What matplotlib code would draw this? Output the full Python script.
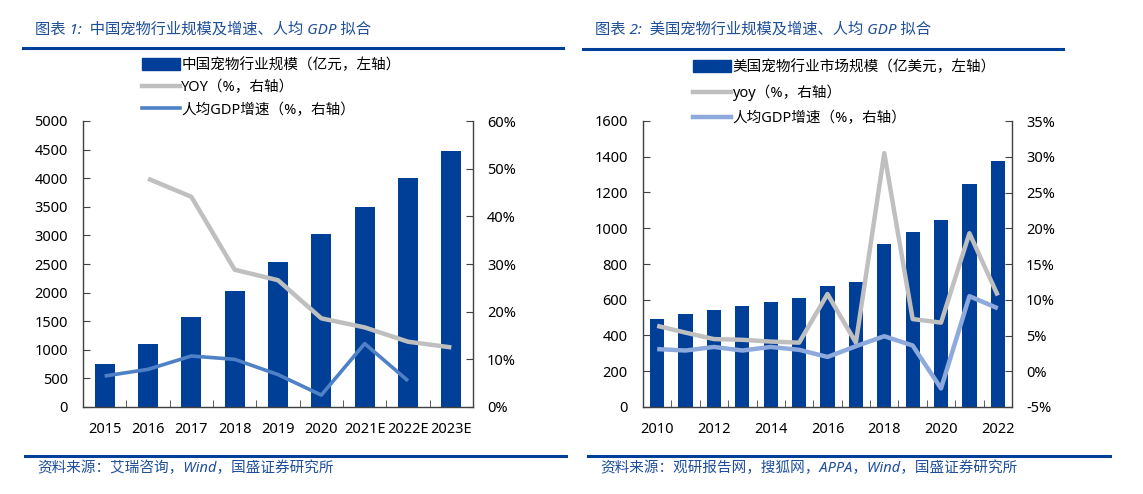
import numpy as np
import matplotlib
matplotlib.use("Agg")
import matplotlib.pyplot as plt
from matplotlib.patches import Patch
from matplotlib.lines import Line2D

plt.rcParams['font.family'] = ['Noto Sans', 'Noto Sans CJK SC', 'DejaVu Sans']

# chart 1: China
cn_years = ['2015', '2016', '2017', '2018', '2019', '2020', '2021E', '2022E', '2023E']
cn_size = [750, 1100, 1570, 2020, 2540, 3020, 3500, 4000, 4480]
cn_yoy = [np.nan, 47.9, 44.1, 28.8, 26.6, 18.6, 16.7, 13.7, 12.5]
cn_gdp = [6.5, 7.9, 10.7, 10.0, 6.8, 2.5, 13.3, 5.5, np.nan]

# chart 2: USA
us_years = [str(y) for y in range(2010, 2023)]
us_size = [493, 519, 541, 566, 588, 610, 678, 702, 913, 978, 1045, 1245, 1378]
us_yoy = [6.35, 5.4, 4.5, 4.4, 4.15, 4.0, 10.8, 4.0, 30.5, 7.3, 6.8, 19.3, 10.6]
us_gdp = [3.1, 2.9, 3.4, 2.9, 3.4, 3.0, 2.0, 3.5, 4.9, 3.6, -2.4, 10.5, 8.8]

BAR = '#003F98'
GRAY = '#BFBFBF'
BLUE1 = '#4F81C7'
BLUE2 = '#8EA9DB'
SPINE = '#404040'
TXT_BLUE = '#1F4E9A'

W, H = 1143, 494
fig = plt.figure(figsize=(W / 100, H / 100), dpi=100)


def px_ax(x0, x1, ytop, ybot):
    return fig.add_axes([x0 / W, 1 - ybot / H, (x1 - x0) / W, (ybot - ytop) / H])


def hline(x0, x1, y, lw=2.2):
    fig.add_artist(Line2D([x0 / W, x1 / W], [1 - y / H, 1 - y / H], color=BAR, lw=lw,
                          transform=fig.transFigure))


def style_axes(ax, ax2, n):
    for a in (ax, ax2):
        for s in a.spines.values():
            s.set_color(SPINE)
            s.set_linewidth(1.0)
        a.spines['top'].set_visible(False)
    ax.spines['right'].set_visible(False)
    ax2.spines['left'].set_visible(False)
    ax2.spines['bottom'].set_visible(False)
    ax.tick_params(axis='y', direction='in', length=5, pad=11, labelsize=10.5, colors=SPINE,
                   labelcolor='black')
    ax2.tick_params(axis='y', direction='in', length=5, pad=10, labelsize=10.5, colors=SPINE,
                    labelcolor='black')
    ax.tick_params(axis='x', which='major', length=0, pad=11, labelsize=10.5)
    ax.set_xticks(np.arange(n + 1) - 0.5, minor=True)
    ax.tick_params(axis='x', which='minor', direction='in', length=5, colors=SPINE)
    ax.set_xlim(-0.5, n - 0.5)


def pct(v, pos):
    return f'{v:.0f}%'


# ---- chart 1 ----
ax = px_ax(83, 473, 121, 407)
ax2 = ax.twinx()
x = np.arange(len(cn_years))
ax.bar(x, cn_size, width=0.46, color=BAR, zorder=2)
ax2.plot(x, cn_yoy, color=GRAY, lw=3.2, solid_capstyle='butt')
ax2.plot(x, cn_gdp, color=BLUE1, lw=2.6, solid_capstyle='butt')
ax.set_ylim(0, 5000)
ax.set_yticks(np.arange(0, 5001, 500))
ax2.set_ylim(0, 60)
ax2.set_yticks(np.arange(0, 61, 10))
ax2.yaxis.set_major_formatter(plt.FuncFormatter(pct))
ax.set_xticks(x)
ax.set_xticklabels(cn_years)
style_axes(ax, ax2, len(cn_years))

h1 = [Patch(facecolor=BAR, edgecolor=BAR),
      Line2D([], [], color=GRAY, lw=3.2),
      Line2D([], [], color=BLUE1, lw=2.6)]
fig.legend(h1, ['中国宠物行业规模（亿元，左轴）', 'YOY（%，右轴）', '人均GDP增速（%，右轴）'],
           loc='upper left', bbox_to_anchor=(142 / W, 1 - 58 / H), frameon=False,
           fontsize=10.5, handlelength=2.6, handleheight=0.9, handletextpad=0.1,
           labelspacing=0.5, borderpad=0, borderaxespad=0)

fig.text(35 / W, 1 - 30 / H, '图表 1:  中国宠物行业规模及增速、人均 GDP 拟合', color=TXT_BLUE,
         fontsize=11, style='italic', va='center', ha='left')
hline(23, 563, 48)
hline(25, 566, 456)
fig.text(37 / W, 1 - 469 / H, '资料来源：艾瑞咨询，Wind，国盛证券研究所', color=TXT_BLUE,
         fontsize=10.5, style='italic', va='center', ha='left')

# ---- chart 2 ----
bx = px_ax(643, 1012, 121, 407)
bx2 = bx.twinx()
x = np.arange(len(us_years))
bx.bar(x, us_size, width=0.5, color=BAR, zorder=2)
bx2.plot(x, us_yoy, color=GRAY, lw=3.2, solid_capstyle='butt')
bx2.plot(x, us_gdp, color=BLUE2, lw=3.2, solid_capstyle='butt')
bx.set_ylim(0, 1600)
bx.set_yticks(np.arange(0, 1601, 200))
bx2.set_ylim(-5, 35)
bx2.set_yticks(np.arange(-5, 36, 5))
bx2.yaxis.set_major_formatter(plt.FuncFormatter(pct))
bx.set_xticks(x)
bx.set_xticklabels([y if int(y) % 2 == 0 else '' for y in us_years])
style_axes(bx, bx2, len(us_years))

h2 = [Patch(facecolor=BAR, edgecolor=BAR),
      Line2D([], [], color=GRAY, lw=3.2),
      Line2D([], [], color=BLUE2, lw=3.2)]
fig.legend(h2, ['美国宠物行业市场规模（亿美元，左轴）', 'yoy（%，右轴）', '人均GDP增速（%，右轴）'],
           loc='upper left', bbox_to_anchor=(693 / W, 1 - 60 / H), frameon=False,
           fontsize=10.5, handlelength=2.6, handleheight=0.9, handletextpad=0.1,
           labelspacing=0.68, borderpad=0, borderaxespad=0)

fig.text(595 / W, 1 - 30 / H, '图表 2:  美国宠物行业规模及增速、人均 GDP 拟合', color=TXT_BLUE,
         fontsize=11, style='italic', va='center', ha='left')
hline(583, 1063, 49)
hline(588, 1110, 456)
fig.text(600 / W, 1 - 469 / H, '资料来源：观研报告网，搜狐网，APPA，Wind，国盛证券研究所', color=TXT_BLUE,
         fontsize=10.5, style='italic', va='center', ha='left')

fig.savefig('out.png', dpi=100)
